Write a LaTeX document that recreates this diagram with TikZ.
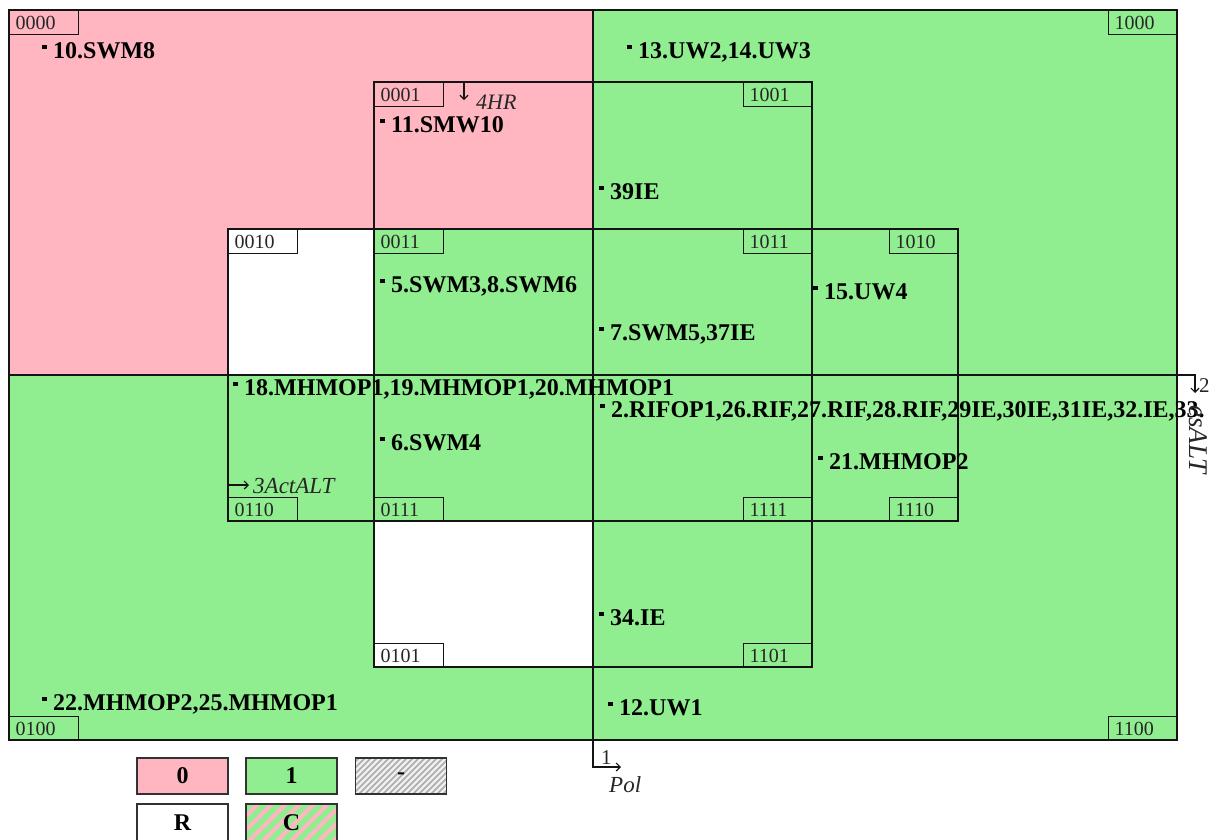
\documentclass[tikz,border=0pt]{standalone}
\usepackage{fontspec}
\setmainfont{Liberation Serif}
\usetikzlibrary{arrows.meta}
\definecolor{cpink}{RGB}{255,182,193}
\definecolor{cgreen}{RGB}{144,238,144}
\definecolor{cline}{RGB}{20,20,20}
\definecolor{clegend}{RGB}{50,50,50}
\newcommand\bul{\raisebox{9pt}{\rule{4.5pt}{4pt}}\hspace{6.5pt}}
\begin{document}
\begin{tikzpicture}[x=1pt,y=-1pt,
  ln/.style={draw=cline, line width=1.6pt},
  arr/.style={draw=cline, line width=1.2pt, -{Straight Barb[length=4pt,width=8pt]}},
  item/.style={anchor=base west, inner sep=0pt, font=\fontsize{24}{28}\selectfont\bfseries, text=black},
  lbl/.style={draw=cline, line width=1.4pt, anchor=north west, minimum width=69pt, minimum height=24pt,
              inner sep=0pt, text width=57pt, align=left, font=\fontsize{20}{22}\selectfont, text=black!85},
  ital/.style={anchor=base west, inner sep=0pt, font=\fontsize{23}{26}\selectfont\itshape, text=black!85},
  upr/.style={anchor=base west, inner sep=0pt, font=\fontsize{21}{24}\selectfont, text=black!85},
  leg/.style={draw=clegend, line width=1.5pt, minimum width=91pt, minimum height=36pt, inner sep=0pt,
              font=\fontsize{24}{28}\selectfont\bfseries}
]
\useasboundingbox (0,0) rectangle (1219,839);
% ---- cell fills ----
\fill[cpink] (9,10) rectangle (593,375);
\fill[cgreen] (593,10) rectangle (1177,375);
\fill[cgreen] (9,375) rectangle (1177,740);
\fill[white] (228,229) rectangle (374,375);
\fill[cgreen] (374,229) rectangle (593,375);
\fill[white] (374,521) rectangle (593,667);
% ---- region lines ----
\draw[ln] (9,10) rectangle (1177,740);
\draw[ln] (374,82) rectangle (812,667);
\draw[ln] (228,229) rectangle (958,521);
\draw[ln] (593,10) -- (593,740);
\draw[ln] (9,375) -- (1177,375);
% ---- cell labels ----
\node[lbl] (c0000) at (9,10) {0000};
\node[lbl] (c1000) at (1108,10) {1000};
\node[lbl] (c0100) at (9,716) {0100};
\node[lbl] (c1100) at (1108,716) {1100};
\node[lbl] (c0001) at (374,82) {0001};
\node[lbl] (c1001) at (743,82) {1001};
\node[lbl] (c0101) at (374,643) {0101};
\node[lbl] (c1101) at (743,643) {1101};
\node[lbl] (c0010) at (228,229) {0010};
\node[lbl] (c1010) at (889,229) {1010};
\node[lbl] (c0110) at (228,497) {0110};
\node[lbl] (c1110) at (889,497) {1110};
\node[lbl] (c0011) at (374,229) {0011};
\node[lbl] (c1011) at (743,229) {1011};
\node[lbl] (c0111) at (374,497) {0111};
\node[lbl] (c1111) at (743,497) {1111};
% ---- items ----
\node[item] (n10) at (42,58) {\bul 10.SWM8};
\node[item] (n13) at (627,58) {\bul 13.UW2,14.UW3};
\node[item] (n11) at (380,132) {\bul 11.SMW10};
\node[item] (n39) at (599,199) {\bul 39IE};
\node[item] (n5) at (380,292) {\bul 5.SWM3,8.SWM6};
\node[item] (n15) at (813,299) {\bul 15.UW4};
\node[item] (n7) at (599,340) {\bul 7.SWM5,37IE};
\node[item] (n18) at (233,395) {\bul 18.MHMOP1,19.MHMOP1,20.MHMOP1};
\node[item] (n2) at (600,417) {\bul 2.RIFOP1,26.RIF,27.RIF,28.RIF,29IE,30IE,31IE,32.IE,33.};
\node[item] (n6) at (380,450) {\bul 6.SWM4};
\node[item] (n21) at (818,469) {\bul 21.MHMOP2};
\node[item] (n34) at (599,625) {\bul 34.IE};
\node[item] (n22) at (42,710) {\bul 22.MHMOP2,25.MHMOP1};
\node[item] (n12) at (608,715) {\bul 12.UW1};
% ---- variable markers ----
\coordinate (hrA) at (464,82);
\coordinate (hrB) at (464,100);
\draw[arr] (hrA) -- (hrB);
\node[ital, font=\fontsize{22}{25}\selectfont\itshape] (hr) at (476,109) {4HR};
\coordinate (aaA) at (228,485);
\coordinate (aaB) at (249,485);
\draw[arr] (aaA) -- (aaB);
\node[ital] (aa) at (253,493) {3ActALT};
\coordinate (eA) at (1177,375);
\coordinate (eB) at (1195,375);
\coordinate (eC) at (1195,393);
\draw[arr] (eA) -- (eB) -- (eC);
\node[upr] (e2) at (1199,392) {2};
\node[ital, rotate=-90, font=\fontsize{27}{30}\selectfont\itshape] (es) at (1189,405) {esALT};
\coordinate (pA) at (593,740);
\coordinate (pB) at (593,767);
\coordinate (pC) at (621,767);
\draw[arr] (pA) -- (pB) -- (pC);
\node[upr] (p1) at (601,764) {1};
\node[ital] (pol) at (609,792) {Pol};
% ---- legend ----
\begin{scope}
  \clip (355,758) rectangle (447,794);
  \fill[gray!12] (355,758) rectangle (447,794);
  \foreach \i in {-40,-34,...,100} \draw[gray!65, line width=1.6pt] (355+\i,796) -- ++(40,-40);
\end{scope}
\begin{scope}
  \clip (246,804) rectangle (337,842);
  \fill[cgreen] (246,804) rectangle (337,842);
  \foreach \i in {-42,-28,...,100} \draw[cpink, line width=4.2pt] (246+\i,844) -- ++(42,-42);
\end{scope}
\node[leg, fill=cpink] (k0) at (182.5,776) {0};
\node[leg, fill=cgreen] (k1) at (291.5,776) {1};
\node[leg] (kd) at (401,776) {-};
\node[leg, fill=white, minimum height=38pt] (kr) at (182.5,823) {R};
\node[leg, minimum height=38pt] (kc) at (291.5,823) {C};
\end{tikzpicture}
\end{document}
